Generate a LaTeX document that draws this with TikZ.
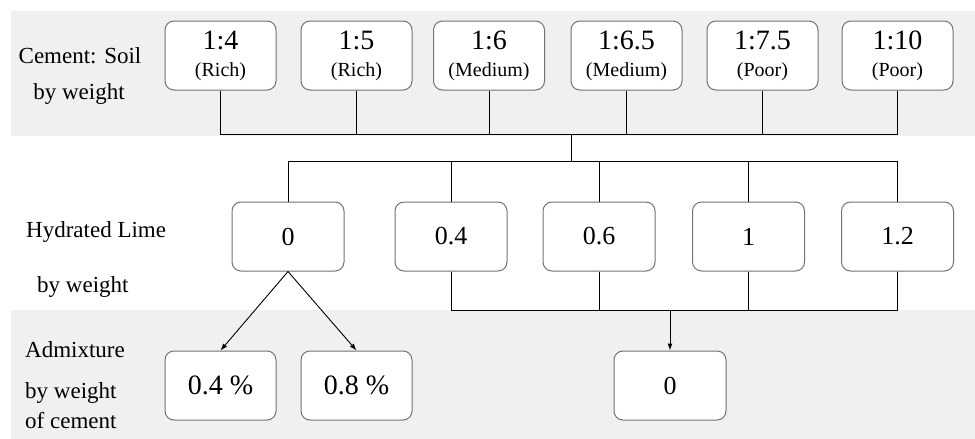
\documentclass[tikz,border=0pt]{standalone}
\usepackage{fontspec}
\setmainfont{Liberation Serif}
\usetikzlibrary{positioning}
\usetikzlibrary{arrows.meta}
\pgfdeclarelayer{bglayer}
\pgfdeclarelayer{nodelayer}
\pgfdeclarelayer{edgelayer}
\pgfsetlayers{bglayer,nodelayer,edgelayer,main}
\tikzset{
  band/.style={fill=black!6, draw=none},
  ratiobox/.style={draw=black!55, line width=1pt, rounded corners=9pt, fill=white,
    minimum width=111pt, minimum height=69pt, inner sep=0pt, align=center,
    font=\fontsize{28}{27}\selectfont},
  valbox/.style={draw=black!55, line width=1pt, rounded corners=9pt, fill=white,
    minimum width=112pt, minimum height=69pt, inner sep=0pt,
    font=\fontsize{26}{30}\selectfont},
  mixbox/.style={valbox, minimum width=111pt, font=\fontsize{28}{30}\selectfont},
  rowlabel/.style={anchor=base west, inner sep=0pt, font=\fontsize{23}{27}\selectfont},
  link/.style={line width=0.9pt},
  >={Latex[length=7pt,width=5pt]},
}
\newcommand{\grade}[1]{{\fontsize{20}{27}\selectfont #1}}

\begin{document}
\begin{tikzpicture}[x=1pt, y=-1pt]
  \useasboundingbox (0, 0) rectangle (975, 439);
  \begin{pgfonlayer}{bglayer}
    \fill [band] (11, 11) rectangle (975, 136);
    \fill [band] (11, 310) rectangle (975, 439);
  \end{pgfonlayer}
  \begin{pgfonlayer}{nodelayer}
    \node [ratiobox] (0) at (220.5, 55.5) {1:4\\\grade{(Rich)}};
    \node [ratiobox] (1) at (356.5, 55.5) {1:5\\\grade{(Rich)}};
    \node [ratiobox] (2) at (489, 55.5) {1:6\\\grade{(Medium)}};
    \node [ratiobox] (3) at (626.5, 55.5) {1:6.5\\\grade{(Medium)}};
    \node [ratiobox] (4) at (762.5, 55.5) {1:7.5\\\grade{(Poor)}};
    \node [ratiobox] (5) at (897.5, 55.5) {1:10\\\grade{(Poor)}};
    \node [valbox] (6) at (288, 236.5) {0};
    \node [valbox] (7) at (451, 236.5) {0.4};
    \node [valbox] (8) at (599, 236.5) {0.6};
    \node [valbox] (9) at (748.5, 236.5) {1};
    \node [valbox] (10) at (897.5, 236.5) {1.2};
    \node [mixbox] (11) at (220.5, 385.5) {0.4 \%};
    \node [mixbox] (12) at (356.5, 385.5) {0.8 \%};
    \node [valbox] (13) at (670, 385.5) {0};
    \node [rowlabel, anchor=base] (14) at (80, 63) {Cement: Soil};
    \node [rowlabel, anchor=base] (15) at (79, 99) {by weight};
    \node [rowlabel] (16) at (26, 237) {Hydrated Lime};
    \node [rowlabel] (17) at (37, 292) {by weight};
    \node [rowlabel] (18) at (25, 357) {Admixture};
    \node [rowlabel] (19) at (25, 398) {by weight};
    \node [rowlabel] (20) at (25, 428) {of cement};
    \coordinate (21) at (571, 134);
    \coordinate (22) at (571, 161);
    \coordinate (23) at (670, 310);
  \end{pgfonlayer}
  \begin{pgfonlayer}{edgelayer}
    \draw [link] (0.south) |- (21);
    \draw [link] (5.south) |- (21);
    \draw [link] (1.south) to (1.south |- 21);
    \draw [link] (2.south) to (2.south |- 21);
    \draw [link] (3.south) to (3.south |- 21);
    \draw [link] (4.south) to (4.south |- 21);
    \draw [link] (21) to (22);
    \draw [link] (6.north) |- (22);
    \draw [link] (10.north) |- (22);
    \draw [link] (7.north) to (7.north |- 22);
    \draw [link] (8.north) to (8.north |- 22);
    \draw [link] (9.north) to (9.north |- 22);
    \draw [link] (7.south) |- (23);
    \draw [link] (10.south) |- (23);
    \draw [link] (8.south) to (8.south |- 23);
    \draw [link] (9.south) to (9.south |- 23);
    \draw [link, ->] (23) to (13.north);
    \draw [link, ->] (6.south) to (11.north);
    \draw [link, ->] (6.south) to (12.north);
  \end{pgfonlayer}
\end{tikzpicture}
\end{document}
